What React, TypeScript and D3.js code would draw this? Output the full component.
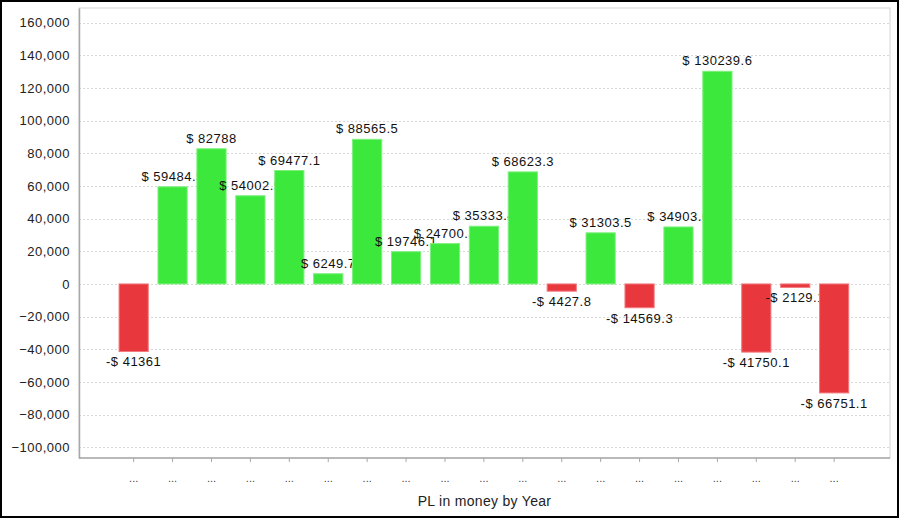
import * as d3 from "d3";
import { useEffect, useRef } from "react";

const years = [
  "y1", "y2", "y3", "y4", "y5", "y6", "y7", "y8", "y9", "y10",
  "y11", "y12", "y13", "y14", "y15", "y16", "y17", "y18", "y19",
];
const profits = [
  -41361, 59484.5, 82788, 54002.9, 69477.1, 6249.7, 88565.5, 19746.1, 24700.3,
  35333.4, 68623.3, -4427.8, 31303.5, -14569.3, 34903.6, 130239.6, -41750.1,
  -2129.1, -66751.1,
];
const yTicks = [
  160000, 140000, 120000, 100000, 80000, 60000, 40000, 20000, 0, -20000,
  -40000, -60000, -80000, -100000,
];
const xTitle = "PL in money by Year";

const W = 900;
const H = 519;
const plot = { left: 79, right: 890, top: 8, bottom: 458 };
const font = "'Liberation Sans', Arial, sans-serif";

function drawChart(el: SVGSVGElement) {
  const svg = d3.select(el);
  svg.selectAll("*").remove();

  const data = years.map((y, i) => ({ year: y, value: profits[i] }));

  const y = d3
    .scaleLinear()
    .domain([-106600, 169000])
    .range([plot.bottom, plot.top]);

  const x = d3
    .scaleBand()
    .domain(years)
    .range([114.2, 853.6])
    .paddingInner(0.25)
    .paddingOuter(0.125);

  svg
    .append("rect")
    .attr("width", W)
    .attr("height", H)
    .attr("fill", "white");

  // plot background + outline
  svg
    .append("rect")
    .attr("x", plot.left)
    .attr("y", plot.top)
    .attr("width", plot.right - plot.left)
    .attr("height", plot.bottom - plot.top)
    .attr("fill", "white")
    .attr("stroke", "#d4d4d4");

  // gridlines
  svg
    .append("g")
    .selectAll("line")
    .data(yTicks)
    .join("line")
    .attr("x1", plot.left)
    .attr("x2", plot.right)
    .attr("y1", (d) => Math.round(y(d)) + 0.5)
    .attr("y2", (d) => Math.round(y(d)) + 0.5)
    .attr("stroke", "#d8d8d8")
    .attr("stroke-dasharray", "2,2");

  // y axis
  const yAxis = svg
    .append("g")
    .attr("transform", `translate(${plot.left},0)`)
    .call(
      d3
        .axisLeft(y)
        .tickValues(yTicks)
        .tickSize(0)
        .tickPadding(9)
        .tickFormat((d) => d3.format(",")(d as number))
    );
  yAxis.select(".domain").attr("stroke", "#a8a8a8").attr("stroke-width", 1.5);
  yAxis
    .selectAll("text")
    .attr("fill", "#222")
    .style("font-family", font)
    .style("font-size", "13px")
    .style("letter-spacing", "0.5px");

  // x axis
  const xAxis = svg
    .append("g")
    .attr("transform", `translate(0,${plot.bottom})`)
    .call(
      d3
        .axisBottom(x)
        .tickSize(4)
        .tickPadding(12)
        .tickFormat(() => "...")
    );
  xAxis
    .select(".domain")
    .attr("d", `M${plot.left},0H${plot.right}`)
    .attr("stroke", "#a8a8a8")
    .attr("stroke-width", 1.5);
  xAxis.selectAll(".tick line").attr("stroke", "#a8a8a8");
  xAxis
    .selectAll("text")
    .attr("fill", "#444")
    .style("font-family", font)
    .style("font-size", "11px");

  // bars, each followed by its label so later bars cover earlier labels
  const items = svg
    .append("g")
    .selectAll("g")
    .data(data)
    .join("g");

  items
    .append("rect")
    .attr("x", (d) => x(d.year) as number)
    .attr("width", x.bandwidth())
    .attr("y", (d) => y(Math.max(0, d.value)))
    .attr("height", (d) => Math.abs(y(d.value) - y(0)))
    .attr("fill", (d) => (d.value >= 0 ? "#3de83d" : "#e8383d"))
    .attr("stroke", (d) => (d.value >= 0 ? "#7cf07c" : "#f07a7e"))
    .attr("stroke-width", 1);

  items
    .append("text")
    .attr("x", (d) => (x(d.year) as number) + x.bandwidth() / 2)
    .attr("y", (d) => (d.value >= 0 ? y(d.value) - 6 : y(d.value) + 15))
    .attr("text-anchor", "middle")
    .attr("fill", "#111")
    .style("font-family", font)
    .style("font-size", "13px")
    .style("letter-spacing", "0.5px")
    .text((d) =>
      d.value >= 0 ? `$ ${d.value}` : `-$ ${Math.abs(d.value)}`
    );

  // axis title
  svg
    .append("text")
    .attr("x", (plot.left + plot.right) / 2)
    .attr("y", 506)
    .attr("text-anchor", "middle")
    .attr("fill", "#222")
    .style("font-family", font)
    .style("font-size", "14px")
    .style("letter-spacing", "0.3px")
    .text(xTitle);

  // outer frame
  svg
    .append("rect")
    .attr("x", 1)
    .attr("y", 1)
    .attr("width", W - 3)
    .attr("height", H - 3)
    .attr("fill", "none")
    .attr("stroke", "#000")
    .attr("stroke-width", 2);
}

export default function App() {
  const ref = useRef<SVGSVGElement>(null);

  useEffect(() => {
    if (ref.current) drawChart(ref.current);
  }, []);

  return (
    <div style={{ position: "absolute", left: 0, top: 0 }}>
      <svg ref={ref} width={W} height={H} style={{ display: "block" }} />
    </div>
  );
}
